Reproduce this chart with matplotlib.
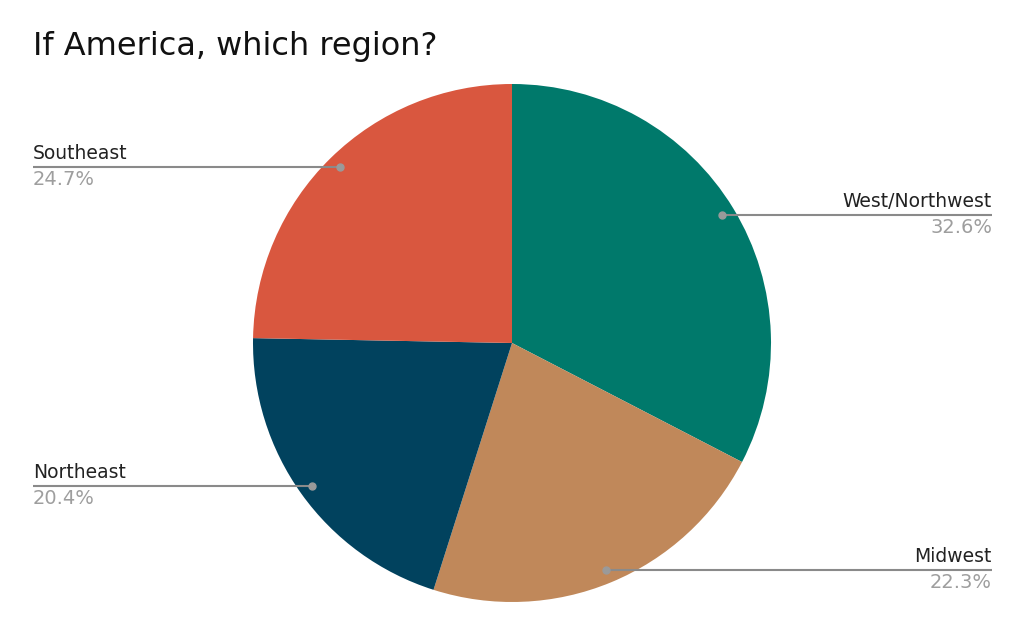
import numpy as np
import matplotlib
matplotlib.use("Agg")
import matplotlib.pyplot as plt

# data
regions = ["West/Northwest", "Midwest", "Northeast", "Southeast"]
shares = [32.6, 22.3, 20.4, 24.7]
colors = ["#00796b", "#c0885a", "#01425e", "#d9573f"]

W, H = 1024, 634
fig = plt.figure(figsize=(W / 100, H / 100), dpi=100)
ax = fig.add_axes([0, 0, 1, 1])

cx, cy, r = 512, H - 343, 259
wedges, _ = ax.pie(shares, colors=colors, startangle=90, counterclock=False,
                   center=(cx, cy), radius=r, frame=True,
                   wedgeprops=dict(linewidth=0))
ax.set_xlim(0, W)
ax.set_ylim(0, H)
ax.set_aspect("equal")
ax.axis("off")

fig.text(33 / W, 1 - 47 / H, "If America, which region?", fontsize=23,
         color="#111111", va="center", ha="left")

cum = 0.0
for name, val in zip(regions, shares):
    mid = 90 - 360 * (cum + val / 2) / 100
    cum += val
    a = np.deg2rad(mid)
    dx, dy = cx + 0.95 * r * np.cos(a), cy + 0.95 * r * np.sin(a)
    right = np.cos(a) > 0
    ex = 992 if right else 33
    ax.plot([dx, ex], [dy, dy], color="#8a8a8a", lw=1.5, solid_capstyle="butt", zorder=3)
    ax.plot(dx, dy, "o", color="#9a9a9a", ms=5, zorder=4)
    ha = "right" if right else "left"
    ax.text(ex, dy + 4, name, ha=ha, va="bottom", fontsize=13.5, color="#222222")
    ax.text(ex, dy - 3, f"{val:.1f}%", ha=ha, va="top", fontsize=14, color="#9e9e9e")

fig.savefig("out.png", dpi=100, facecolor="white")
